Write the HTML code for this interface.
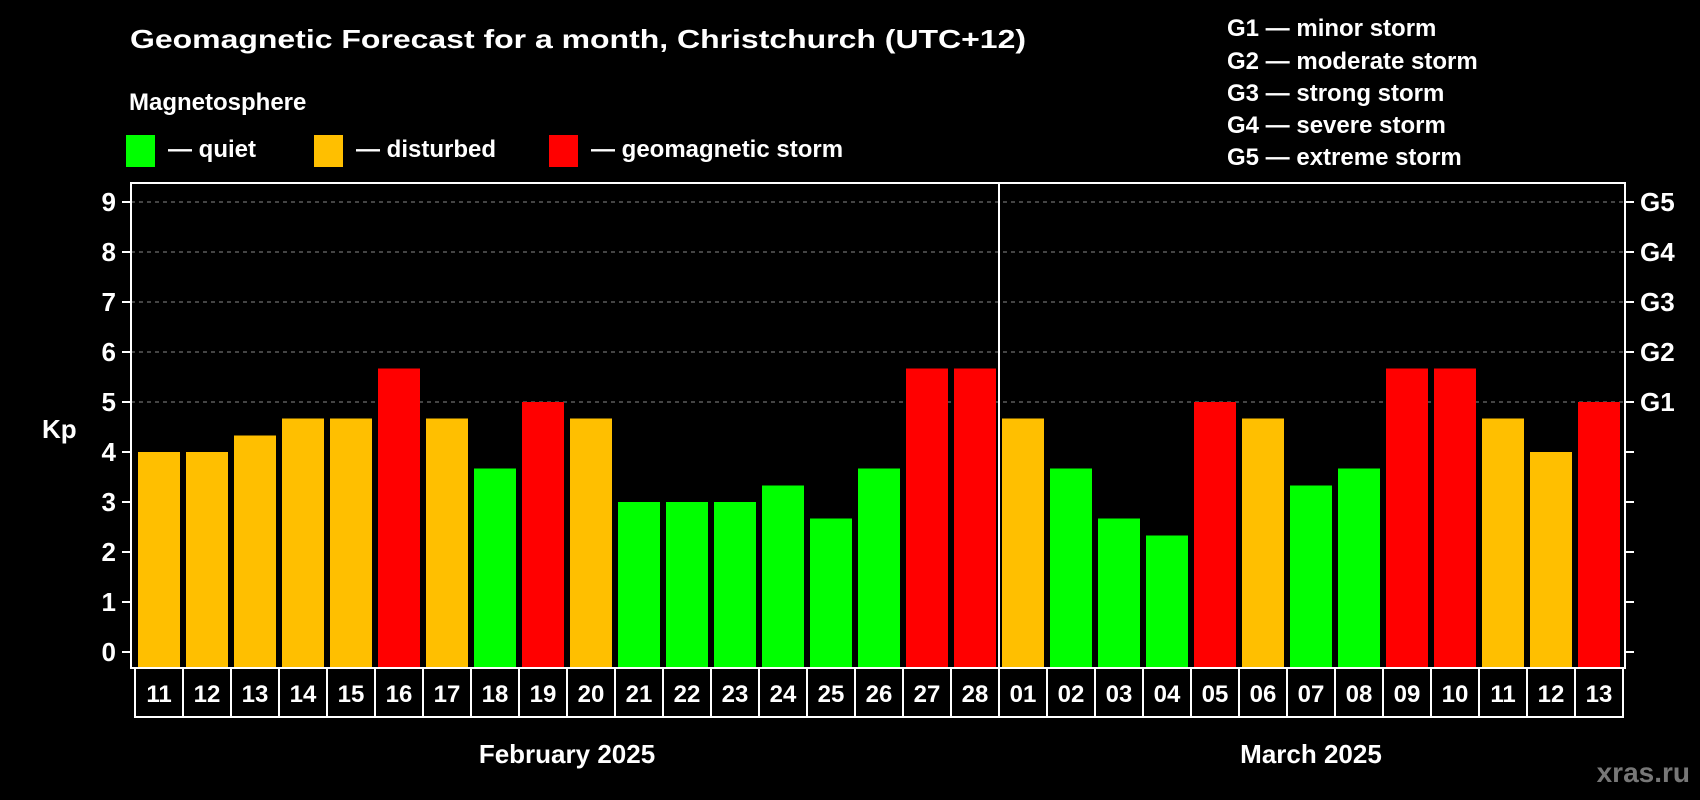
<!DOCTYPE html>
<html><head><meta charset="utf-8"><style>
html,body{margin:0;padding:0;background:#000;}
svg{display:block;font-family:"Liberation Sans",Arial,sans-serif;font-weight:bold;}
</style></head><body>
<svg id="chart" width="1700" height="800" viewBox="0 0 1700 800" xmlns="http://www.w3.org/2000/svg">
<rect width="1700" height="800" fill="#000"/>
<text x="130" y="48" fill="#fff" font-size="26" textLength="896" lengthAdjust="spacingAndGlyphs">Geomagnetic Forecast for a month, Christchurch (UTC+12)</text>
<text x="129" y="110" fill="#fff" font-size="24">Magnetosphere</text>
<g>
<rect x="126" y="135" width="29" height="32" fill="#00ff00"/>
<text x="168" y="157" fill="#fff" font-size="24">— quiet</text></g>
<g>
<rect x="314" y="135" width="29" height="32" fill="#ffbf00"/>
<text x="356" y="157" fill="#fff" font-size="24">— disturbed</text></g>
<g>
<rect x="549" y="135" width="29" height="32" fill="#ff0000"/>
<text x="591" y="157" fill="#fff" font-size="24">— geomagnetic storm</text></g>
<g fill="#fff" font-size="24">
<text x="1227" y="36">G1 — minor storm</text>
<text x="1227" y="69">G2 — moderate storm</text>
<text x="1227" y="101">G3 — strong storm</text>
<text x="1227" y="133">G4 — severe storm</text>
<text x="1227" y="165">G5 — extreme storm</text>
</g>
<text x="42" y="438" fill="#fff" font-size="26">Kp</text>
<g id="grid"></g>
<g id="bars"></g>
<g id="axes"></g>
<text x="567" y="763" fill="#fff" font-size="26" text-anchor="middle">February 2025</text>
<text x="1311" y="763" fill="#fff" font-size="26" text-anchor="middle">March 2025</text>
<text x="1690" y="782" fill="#777" font-size="28" text-anchor="end">xras.ru</text>
</svg>
<script>
const days = ["11","12","13","14","15","16","17","18","19","20","21","22","23","24","25","26","27","28","01","02","03","04","05","06","07","08","09","10","11","12","13"];
const kpValues = [4,4,4.33,4.67,4.67,5.67,4.67,3.67,5,4.67,3,3,3,3.33,2.67,3.67,5.67,5.67,4.67,3.67,2.67,2.33,5,4.67,3.33,3.67,5.67,5.67,4.67,4,5];
const yTicks = [0,1,2,3,4,5,6,7,8,9];
const gLabels = ["G1","G2","G3","G4","G5"];
const gLevels = [5,6,7,8,9];
const NS="http://www.w3.org/2000/svg";
const plotL=131, plotR=1625, plotT=183, plotB=668, cellL=135, cellW=48;
function y(v){return 652-v*50;}
function xc(i){return cellL+i*cellW;}
function mk(t,a,p){const e=document.createElementNS(NS,t);for(const k in a)e.setAttribute(k,a[k]);p.appendChild(e);return e;}
const grid=document.getElementById('grid'), bars=document.getElementById('bars'), axes=document.getElementById('axes');
yTicks.forEach(v=>{
  if(v>=5){const l=mk('line',{x1:plotL,x2:plotR,y1:y(v),y2:y(v),stroke:'#888','stroke-width':1,'stroke-dasharray':'4,4'},grid);
  
  }
  const t=mk('line',{x1:plotL-9,x2:plotL,y1:y(v),y2:y(v),stroke:'#fff','stroke-width':2},axes);
  
  
  const r=mk('line',{x1:plotR,x2:plotR+9,y1:y(v),y2:y(v),stroke:'#fff','stroke-width':2},axes);
  
  
  const lb=mk('text',{x:116,y:y(v)+9,fill:'#fff','font-size':26,'text-anchor':'end'},axes);
  lb.textContent=v;
  
  
});
gLevels.forEach((v,i)=>{
  const t=mk('text',{x:1640,y:y(v)+9,fill:'#fff','font-size':26},axes);
  t.textContent=gLabels[i];
  
  
});
kpValues.forEach((v,i)=>{
  const c = v>=5?'#ff0000':(v>=4?'#ffbf00':'#00ff00');
  const b=mk('rect',{x:xc(i)+3,y:y(v),width:42,height:plotB-y(v),fill:c},bars);
  
  
  const cell=mk('rect',{x:xc(i),y:plotB,width:cellW,height:49,fill:'none',stroke:'#fff','stroke-width':2},axes);
  
  
  const t=mk('text',{x:xc(i)+cellW/2,y:plotB+34,fill:'#fff','font-size':24,'text-anchor':'middle'},axes);
  t.textContent=days[i];
  
  
});
const fr=mk('rect',{x:plotL,y:plotT,width:plotR-plotL,height:plotB-plotT,fill:'none',stroke:'#fff','stroke-width':2},axes);


const sep=mk('line',{x1:xc(18),x2:xc(18),y1:plotT,y2:plotB,stroke:'#fff','stroke-width':2},axes);


</script>
</body></html>
